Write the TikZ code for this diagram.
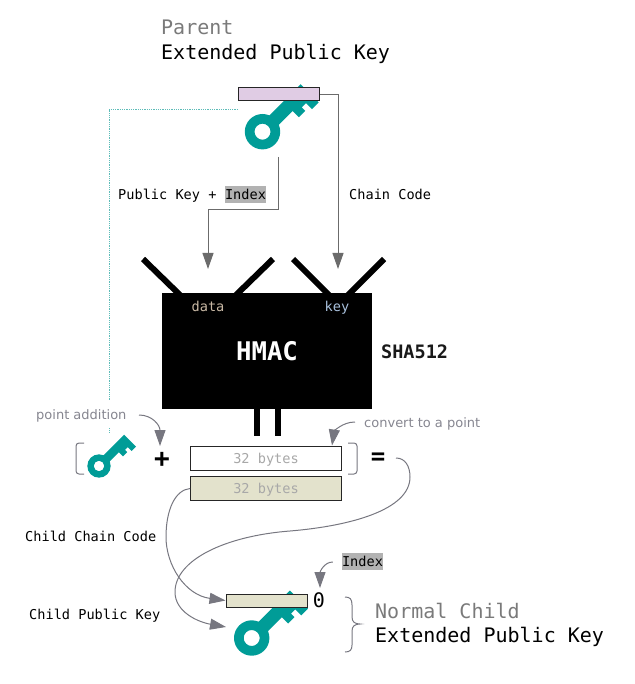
\documentclass[tikz,border=0pt]{standalone}
\usepackage{fontspec}
\setmainfont{DejaVu Sans}
\setmonofont{DejaVu Sans Mono}
\usetikzlibrary{arrows.meta,calc}
\definecolor{teal1}{HTML}{009C97}
\definecolor{dott}{HTML}{5DBCB8}
\definecolor{conn}{HTML}{6B6B6B}
\definecolor{curv}{HTML}{777780}
\definecolor{lilac}{HTML}{E0CCE4}
\definecolor{cream}{HTML}{E3E2CC}
\definecolor{idxgray}{HTML}{B2B2B2}
\definecolor{bytesgray}{HTML}{A8A8A8}
\definecolor{notegray}{HTML}{868690}
\definecolor{headgray}{HTML}{7A7A7A}
\definecolor{datatan}{HTML}{C8B8A4}
\definecolor{keyblue}{HTML}{A8C0DC}
\newcommand{\fs}[1]{\fontsize{#1}{#1}\selectfont}
\tikzset{
  x=1pt,y=-1pt,
  keypic/.pic={
    \begin{scope}[x={(.7071pt,.7071pt)},y={(.7071pt,-.7071pt)}]
      \fill[teal1,even odd rule] (0,0) circle [radius=17.7] (0,0) circle [radius=8];
      \fill[teal1] (13,-6.6) -- (60.5,-6.6) -- (60.5,19) -- (51,19) -- (51,10.5) -- (45,10.5) -- (45,15.5) -- (36,15.5) -- (36,6.6) -- (13,6.6) -- cycle;
    \end{scope}
  },
  barbox/.style={draw=black!85,line width=1pt,inner sep=0pt,minimum width=81pt,minimum height=13pt},
  bytesbox/.style={draw=black!85,line width=1pt,inner sep=0pt,minimum width=151pt,minimum height=24pt,text depth=0pt,font=\ttfamily\fs{13.6},text=bytesgray},
  lbl/.style={font=\ttfamily\fs{13.6},text=black,inner sep=0pt,anchor=base west},
  head/.style={font=\ttfamily\fs{20},inner sep=0pt,anchor=base west},
  note/.style={font=\fs{13},text=notegray,inner sep=0pt,anchor=base west},
  idxbox/.style={fill=idxgray,font=\ttfamily\fs{13.6},inner sep=0pt,minimum width=41pt,minimum height=17pt},
  conline/.style={draw=conn,line width=1pt,-{Triangle[length=16pt,width=11pt]}},
  curline/.style={draw=curv,line width=1pt,-{Triangle[length=16pt,width=11pt]}},
  plainline/.style={draw=curv,line width=1pt},
  funnel/.style={line width=6pt,black},
}
\begin{document}
\begin{tikzpicture}
\useasboundingbox (0,0) rectangle (634,684);
% coordinates
\coordinate (dotstart) at (238,109);
\coordinate (dotcorner) at (109,109);
\coordinate (dotend) at (109,433);
\coordinate (pkstart) at (278,157);
\coordinate (pkbend) at (278,210);
\coordinate (datain) at (208,269);
\coordinate (keyin) at (338,269);
% dotted line
\draw[dott,line width=.8pt,densely dotted] (dotstart) -- (dotcorner) -- (dotend);
% headings
\node[head,text=headgray] (parent) at (161,34.5) {Parent};
\node[head] (ext1) at (161,60) {Extended Public Key};
% parent key
\pic at (262.5,131.7) {keypic};
\node[barbox,fill=lilac] (topbar) at (279,94.5) {};
% connectors from parent
\draw[conline] (pkstart) -- (pkbend) -| (datain);
\draw[conline] (topbar.east) -| (keyin);
\node[lbl] (pklabel) at (118,200) {Public Key +};
\node[idxbox] (idx1) at (245.5,194.5) {Index};
\node[lbl] (cclabel) at (349,200) {Chain Code};
% HMAC funnels
\draw[funnel] (143,259) -- (181,296);
\draw[funnel] (273,259) -- (235,296);
\draw[funnel] (293,259) -- (330,296);
\draw[funnel] (384,259) -- (347,296);
% HMAC
\node[fill=black,draw=none,inner sep=0pt,minimum width=210pt,minimum height=116pt] (hmac) at (267,351) {};
\node[font=\ttfamily\fs{13.6},text=datatan,inner sep=0pt,anchor=base] (datal) at (208,311) {data};
\node[font=\ttfamily\fs{13.6},text=keyblue,inner sep=0pt,anchor=base] (keyl) at (337,311) {key};
\node[font=\ttfamily\bfseries\fs{25.7},text=white,inner sep=0pt,anchor=base] (hmact) at (267,360) {HMAC};
\node[font=\ttfamily\bfseries\fs{18.5},text=black!90,inner sep=0pt,anchor=base west] (sha) at (381,358) {SHA512};
% stems
\coordinate (s1a) at (257,405); \coordinate (s1b) at (257,436);
\coordinate (s2a) at (278,405); \coordinate (s2b) at (278,436);
\draw[funnel] (s1a) -- (s1b);
\draw[funnel] (s2a) -- (s2b);
% notes
\node[fill=white,inner sep=0pt,minimum width=94pt,minimum height=28pt] (ptbg) at (82,414) {};
\node[note] (ptadd) at (36,419) {point addition};
\node[note] (conv) at (364,427) {convert to a point};
% boxes
\node[bytesbox,fill=white] (b1) at (266,458.5) {32 bytes};
\node[bytesbox,fill=cream] (b2) at (266,488.5) {32 bytes};
% small key and brackets
\draw[plainline,rounded corners=3pt] (84,443) -- (76,443) -- (76,474) -- (84,474);
\draw[plainline,rounded corners=3pt] (348,443) -- (357,443) -- (357,474) -- (348,474);
\pic[scale=.66] at (99,466) {keypic};
\node[font=\ttfamily\bfseries\fs{26},inner sep=0pt] (plus) at (162,460) {+};
\node[font=\ttfamily\bfseries\fs{24},inner sep=0pt] (eq) at (378,458.5) {=};
\coordinate (ptstart) at (139,415);
\coordinate (pttip) at (160,446);
\coordinate (cvstart) at (355,422);
\coordinate (cvtip) at (332,445.5);
\draw[curline] (ptstart) .. controls (152,415) and (160,425) .. (pttip);
\draw[curline] (cvstart) .. controls (342,422) and (334,432) .. (cvtip);
% child
\pic at (251.7,638) {keypic};
\node[barbox,fill=cream] (childbar) at (266.5,600.5) {};
\coordinate (eqstart) at (396,458);
\coordinate (childkeyin) at (226,627);
\draw[curline] (eqstart) .. controls (405,458) and (410,466) .. (410,477) .. controls (410,510) and (350,526) .. (290,531) .. controls (225,536) and (175,560) .. (175,592) .. controls (175,612) and (198,622) .. (childkeyin);
\draw[curline] (b2.west) .. controls (175,490) and (166,510) .. (166,537) .. controls (166,565) and (185,595) .. (childbar.west);
\node[lbl] (ccc) at (25,541.7) {Child Chain Code};
\node[lbl] (cpk) at (29,619) {Child Public Key};
\node[idxbox] (idx2) at (362.5,561.5) {Index};
\coordinate (zerotip) at (320,588);
\draw[curline] (idx2.west) ++(-9,0.5) .. controls (324,562) and (320,572) .. (zerotip);
\node[font=\ttfamily\fs{20},inner sep=0pt,anchor=base] (zero) at (319,607.7) {0};
\draw[plainline] (345,597) .. controls (350,597) and (352,599) .. (352,605) -- (352,617) .. controls (352,622) and (355,624) .. (360,624) .. controls (355,624) and (352,626) .. (352,631) -- (352,645) .. controls (352,650) and (350,652) .. (345,652);
\node[head,text=headgray] (normal) at (375,618) {Normal Child};
\node[head] (ext2) at (375,642) {Extended Public Key};
\end{tikzpicture}
\end{document}
